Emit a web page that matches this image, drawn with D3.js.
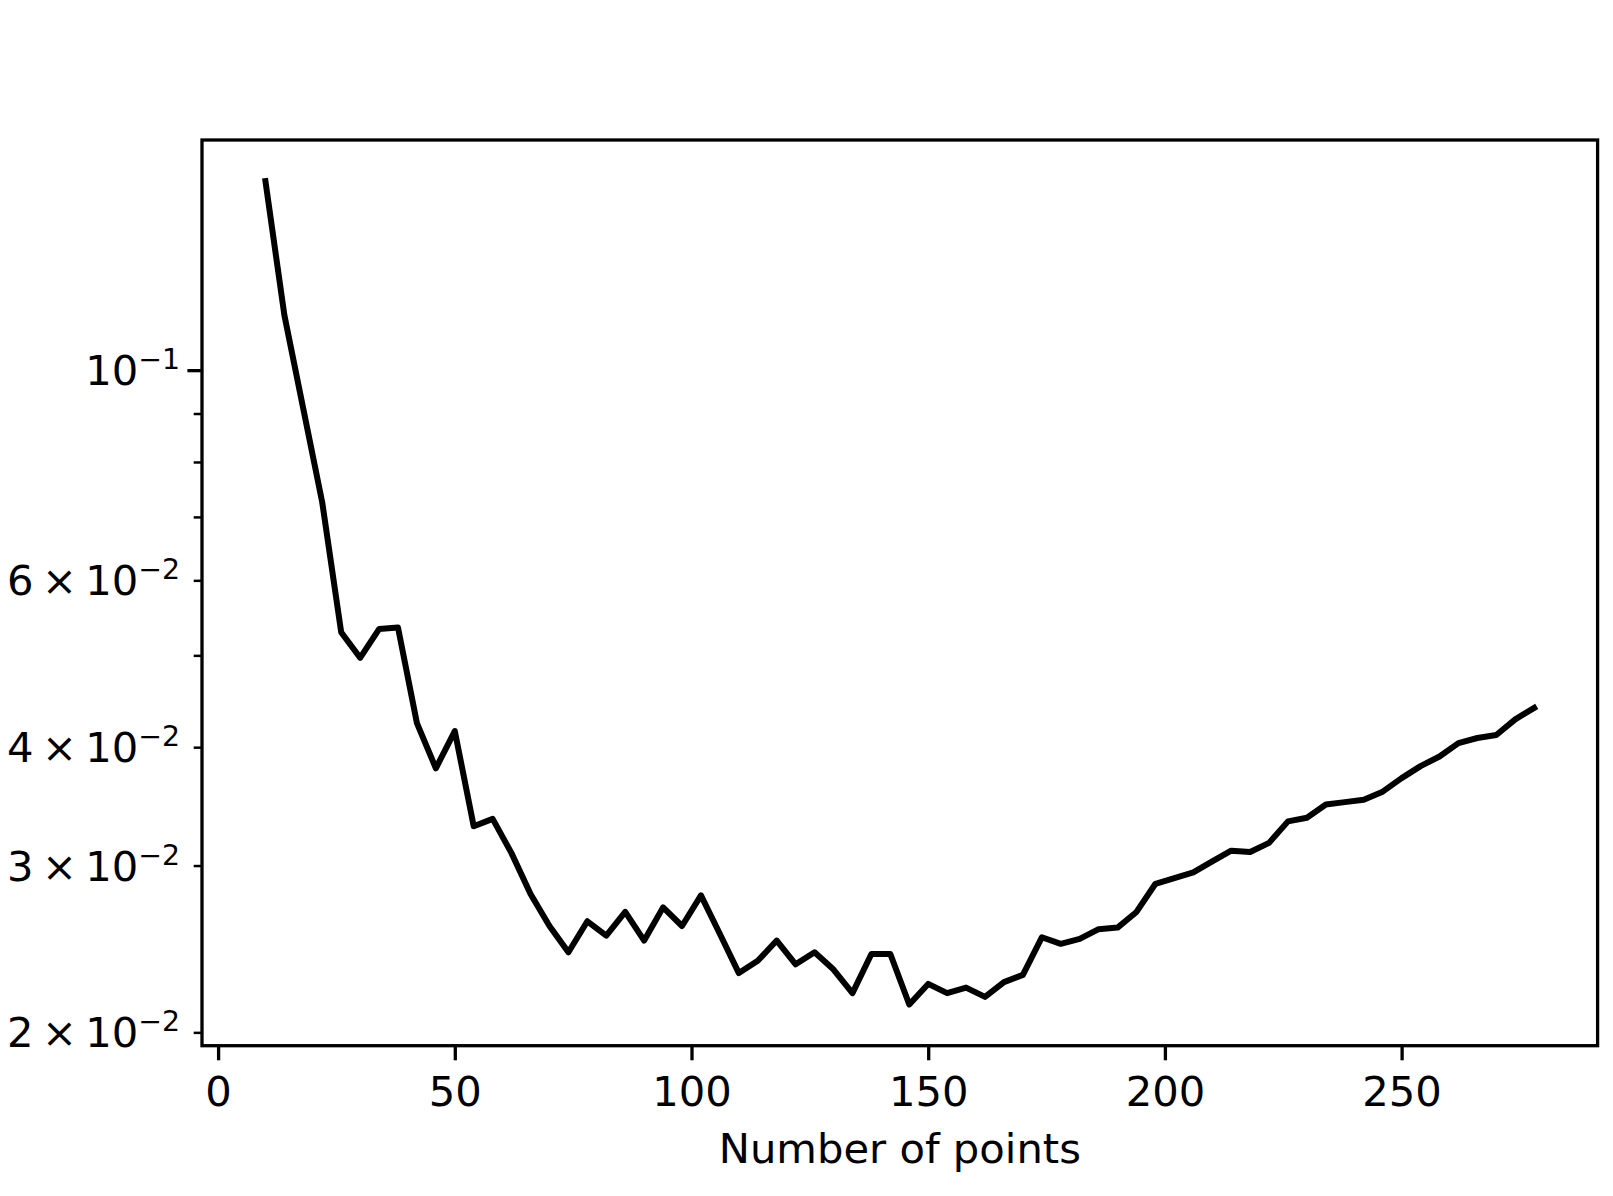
<!DOCTYPE html>
<html>
<head>
<meta charset="utf-8">
<script src="https://cdn.jsdelivr.net/npm/d3@7"></script>
<style>
  body { margin: 0; background: #fff; }
  svg { display: block; font-family: "DejaVu Sans", sans-serif; }
</style>
</head>
<body>
<svg id="chart"></svg>
<script>
// Number of points (x) and the error curve (y, log scale)
const xValues = d3.range(10, 279, 4);
const yValues = [
  0.1583, 0.1143, 0.0910, 0.0725, 0.0529, 0.0497, 0.0533, 0.0535, 0.0424, 0.0380,
  0.0416, 0.0330, 0.0336, 0.0309, 0.0280, 0.0259, 0.0243, 0.0262, 0.0253, 0.0268,
  0.0250, 0.0271, 0.0259, 0.0279, 0.0254, 0.0231, 0.0238, 0.0250, 0.0236, 0.0243,
  0.0233, 0.0220, 0.0242, 0.0242, 0.0214, 0.0225, 0.0220, 0.0223, 0.0218, 0.0226,
  0.0230, 0.0252, 0.0248, 0.0251, 0.0257, 0.0258, 0.0268, 0.0287, 0.0291, 0.0295,
  0.0303, 0.0311, 0.0310, 0.0317, 0.0334, 0.0337, 0.0348, 0.0350, 0.0352, 0.0359,
  0.0371, 0.0382, 0.0391, 0.0404, 0.0409, 0.0412, 0.0428, 0.0440
];

const xTicks = [0, 50, 100, 150, 200, 250];
const yMajorTicks = [0.1];
const yMinorTicks = [0.02, 0.03, 0.04, 0.05, 0.06, 0.07, 0.08, 0.09];
// labelled ticks: mantissa text and exponent
const yLabelValues = [0.02, 0.03, 0.04, 0.06, 0.1];
const yLabelMain = ["2\u2009×\u200910", "3\u2009×\u200910", "4\u2009×\u200910", "6\u2009×\u200910", "10"];
const yLabelSup = ["\u22122", "\u22122", "\u22122", "\u22122", "\u22121"];

const W = 1613, H = 1196;
const plot = { left: 202, right: 1597.6, top: 140, bottom: 1045.7 };
const fs = 41.7;

const svg = d3.select('#chart').attr('width', W).attr('height', H);
svg.append('rect').attr('width', W).attr('height', H).attr('fill', '#fff');

// matplotlib-like 5% margins (log-space for y)
const xMin = d3.min(xValues), xMax = d3.max(xValues);
const xPad = (xMax - xMin) * 0.05;
const x = d3.scaleLinear().domain([xMin - xPad, xMax + xPad]).range([plot.left, plot.right]);

const lMin = Math.log10(d3.min(yValues)), lMax = Math.log10(d3.max(yValues));
const lPad = (lMax - lMin) * 0.05;
const y = d3.scaleLog()
  .domain([Math.pow(10, lMin - lPad), Math.pow(10, lMax + lPad)])
  .range([plot.bottom, plot.top]);

// the curve
const line = d3.line().x((d, i) => x(xValues[i])).y(d => y(d));
svg.append('path')
  .datum(yValues)
  .attr('d', line)
  .attr('fill', 'none')
  .attr('stroke', '#000')
  .attr('stroke-width', 6)
  .attr('stroke-linejoin', 'round')
  .attr('stroke-linecap', 'square');

// x axis
const xAxis = svg.append('g')
  .attr('transform', `translate(0,${plot.bottom})`)
  .call(d3.axisBottom(x).tickValues(xTicks).tickSize(14.6).tickPadding(16).tickSizeOuter(0));
xAxis.select('.domain').remove();
xAxis.selectAll('.tick line').attr('stroke', '#000').attr('stroke-width', 3.3);
xAxis.selectAll('.tick text')
  .attr('font-size', fs)
  .attr('font-family', '"DejaVu Sans", sans-serif')
  .attr('fill', '#000');

// y axis ticks
const yMajor = svg.append('g')
  .attr('transform', `translate(${plot.left},0)`)
  .call(d3.axisLeft(y).tickValues(yMajorTicks).tickSize(14.6).tickFormat('').tickSizeOuter(0));
yMajor.select('.domain').remove();
yMajor.selectAll('.tick line').attr('stroke', '#000').attr('stroke-width', 3.3);

const yMinor = svg.append('g')
  .attr('transform', `translate(${plot.left},0)`)
  .call(d3.axisLeft(y).tickValues(yMinorTicks).tickSize(8.3).tickFormat('').tickSizeOuter(0));
yMinor.select('.domain').remove();
yMinor.selectAll('.tick line').attr('stroke', '#000').attr('stroke-width', 2.5);

// y tick labels with superscript exponents
const yLabels = svg.append('g')
  .attr('font-size', fs)
  .attr('fill', '#000')
  .attr('text-anchor', 'end');
yLabelValues.forEach((v, i) => {
  const t = yLabels.append('text')
    .attr('x', 180)
    .attr('y', y(v) + 15);
  t.append('tspan').text(yLabelMain[i]);
  t.append('tspan')
    .attr('font-size', fs * 0.68)
    .attr('dx', 0)
    .attr('dy', -16)
    .text(yLabelSup[i]);
});

// frame
svg.append('rect')
  .attr('x', plot.left).attr('y', plot.top)
  .attr('width', plot.right - plot.left).attr('height', plot.bottom - plot.top)
  .attr('fill', 'none')
  .attr('stroke', '#000')
  .attr('stroke-width', 3.3);

// x label
svg.append('text')
  .attr('x', (plot.left + plot.right) / 2)
  .attr('y', 1163)
  .attr('text-anchor', 'middle')
  .attr('font-size', fs)
  .attr('fill', '#000')
  .text('Number of points');
</script>
</body>
</html>
